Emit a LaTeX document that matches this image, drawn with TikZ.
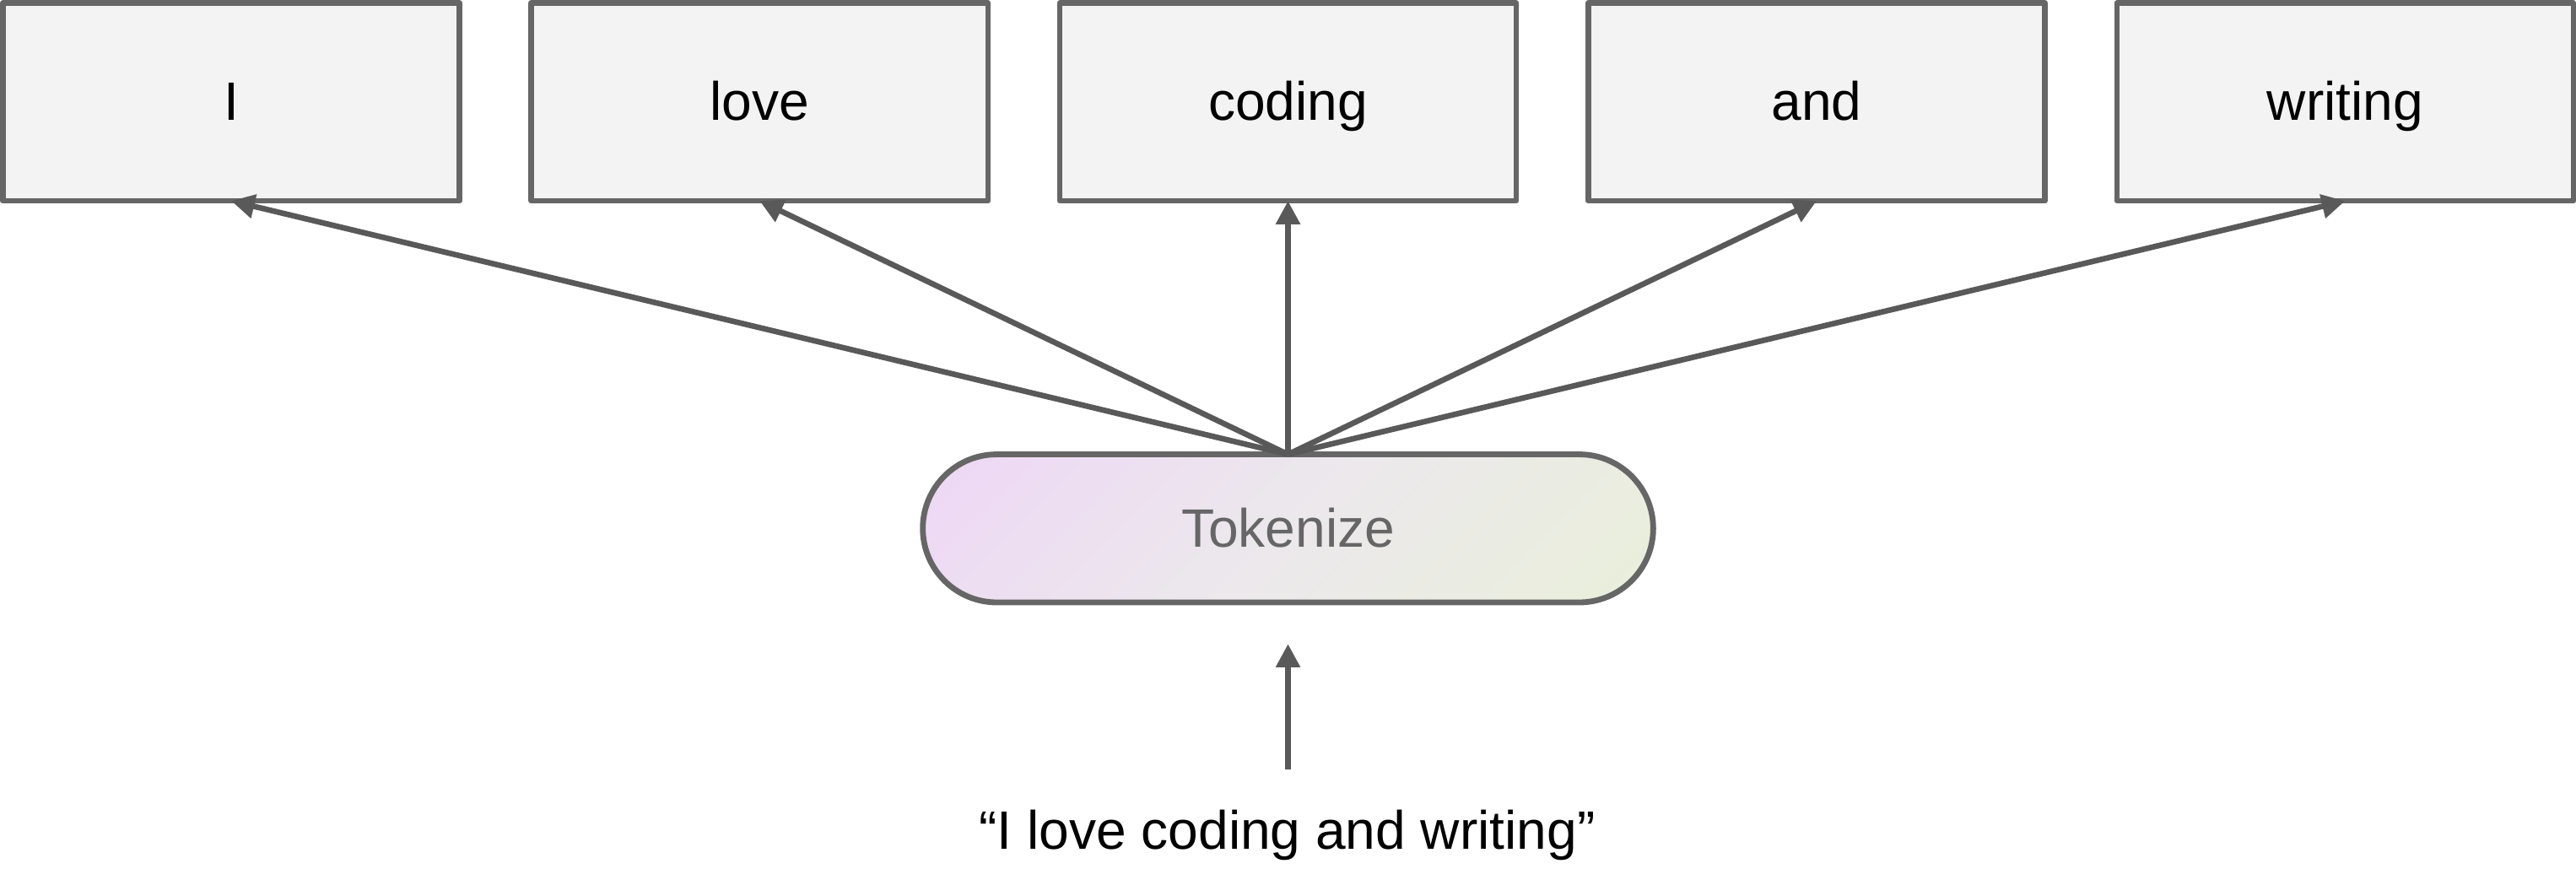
\documentclass[tikz,border=0pt]{standalone}
\usepackage{fontspec}
\setmainfont{Liberation Sans}
\usetikzlibrary{arrows.meta}
\definecolor{bordergray}{HTML}{666666}
\definecolor{arrowgray}{HTML}{595959}
\definecolor{boxfill}{HTML}{F3F3F3}
\definecolor{tokpink}{HTML}{EFCFFA}
\definecolor{tokmid}{HTML}{ECE8EC}
\definecolor{tokgreen}{HTML}{E7F3D1}
\pgfdeclarehorizontalshading{tokgrad}{100bp}{color(0bp)=(tokpink); color(30bp)=(tokpink); color(50bp)=(tokmid); color(70bp)=(tokgreen); color(100bp)=(tokgreen)}
\tikzset{
  tokenbox/.style={draw=bordergray, fill=boxfill, line width=3.4pt, line join=round,
    minimum width=277.9pt, minimum height=120.4pt, inner sep=0pt, outer sep=0pt,
    text height=22.6pt, text depth=0pt, font=\fontsize{32.9}{39}\selectfont},
  tokbox/.style={draw=bordergray, line width=3.5pt, rounded corners=45pt,
    minimum width=444.6pt, minimum height=90.1pt, inner sep=0pt, outer sep=0pt,
    text=bordergray, text height=23.3pt, text depth=0pt, font=\fontsize{32.9}{39}\selectfont,
    path picture={\shade[shading=tokgrad, shading angle=-45]
      ([xshift=-350pt,yshift=-350pt]path picture bounding box.center) rectangle
      ([xshift=350pt,yshift=350pt]path picture bounding box.center);}},
  arr/.style={draw=arrowgray, line width=3.4pt, -{Triangle[width=14.2pt,length=14.2pt]}},
  plaintext/.style={inner sep=0pt, font=\fontsize{32.9}{39}\selectfont}
}
\begin{document}
\begin{tikzpicture}[x=1pt,y=1pt]
\useasboundingbox (0,0) rectangle (1568,-545);
\node[tokenbox] (b1) at (140.75,-62.1) {I};
\node[tokenbox] (b2) at (462.4,-62.1) {love};
\node[tokenbox] (b3) at (784,-62.1) {coding};
\node[tokenbox] (b4) at (1105.8,-62.1) {and};
\node[tokenbox] (b5) at (1427.5,-62.1) {writing};
\node[tokbox] (tok) at (784,-321.65) {Tokenize};
\node[plaintext, anchor=base] (sent) at (783.5,-516.7) {“I love coding and writing”};
\coordinate (qtail) at (784,-468.4);
\coordinate (qtip) at (784,-392);
\foreach \b in {b1,b2,b3,b4,b5} {\draw[arr] (tok.north) -- (\b.south);}
\draw[arr] (qtail) -- (qtip);
\end{tikzpicture}
\end{document}
